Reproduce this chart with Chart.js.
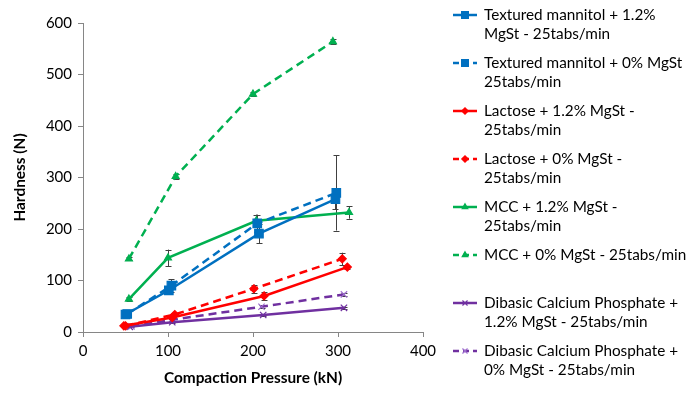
<!DOCTYPE html>
<html>
<head>
<meta charset="utf-8">
<script src="https://cdn.jsdelivr.net/npm/chart.js@4.4.0/dist/chart.umd.min.js"></script>
<style>
    html, body { margin: 0; padding: 0; background: #ffffff; }
    #wrap { width: 700px; height: 396px; position: relative; }
</style>
</head>
<body>
<div id="wrap"><canvas id="hardnessChart"></canvas></div>
<script>
// 数据 - 压片压力 (kN) / 硬度 (N) / 误差
const mannitol12X = [50, 101, 207, 297];
const mannitol12Y = [34, 81, 191, 258];
const mannitol12Err = [2, 6, 19, 20];

const mannitol0X = [52, 104, 205, 298];
const mannitol0Y = [35, 90, 211, 270];
const mannitol0Err = [2, 12, 17, 73];

const lactose12X = [48, 105, 213, 311];
const lactose12Y = [12, 28, 70, 126];
const lactose12Err = [1, 3, 8, 3];

const lactose0X = [50, 108, 201, 305];
const lactose0Y = [12, 34, 84, 142];
const lactose0Err = [1, 3, 8, 12];

const mcc12X = [54, 100, 204, 313];
const mcc12Y = [64, 144, 216, 232];
const mcc12Err = [3, 16, 12, 12];

const mcc0X = [54, 109, 200, 294];
const mcc0Y = [142, 302, 462, 564];
const mcc0Err = [3, 4, 4, 4];

const dcp12X = [55, 105, 212, 307];
const dcp12Y = [10, 19, 33, 47];
const dcp12Err = [1, 2, 2, 2];

const dcp0X = [57, 106, 210, 307];
const dcp0Y = [11, 24, 49, 73];
const dcp0Err = [1, 2, 3, 3];

// 图例文字 (按原图换行)
const legendLines = [
    ['Textured mannitol + 1.2%', 'MgSt - 25tabs/min'],
    ['Textured mannitol + 0% MgSt', '25tabs/min'],
    ['Lactose + 1.2% MgSt -', '25tabs/min'],
    ['Lactose + 0% MgSt -', '25tabs/min'],
    ['MCC + 1.2% MgSt -', '25tabs/min'],
    ['MCC + 0% MgSt - 25tabs/min'],
    ['Dibasic Calcium Phosphate +', '1.2% MgSt - 25tabs/min'],
    ['Dibasic Calcium Phosphate +', '0% MgSt - 25tabs/min']
];

const xTicks = [0, 100, 200, 300, 400];
const yTicks = [0, 100, 200, 300, 400, 500, 600];

const BLUE = '#0070C0';
const RED = '#FF0000';
const GREEN = '#00B050';
const PURPLE = '#7030A0';
const DASH = [8, 5];

function toPoints(xs, ys) {
    return xs.map((x, i) => ({ x: x, y: ys[i] }));
}

function makeSeries(idx, xs, ys, errs, color, dashed, style, radius, pointColor) {
    return {
        label: legendLines[idx].join(' '),
        data: toPoints(xs, ys),
        errors: errs,
        showLine: true,
        borderColor: color,
        backgroundColor: pointColor || color,
        pointBorderColor: pointColor || color,
        pointBackgroundColor: pointColor || color,
        borderWidth: 2.5,
        borderDash: dashed ? DASH : [],
        pointStyle: style,
        pointRadius: radius,
        pointBorderWidth: 1.2,
        tension: 0
    };
}

// 误差线插件
const errorBarPlugin = {
    id: 'errorBars',
    beforeDatasetsDraw(chart) {
        const ctx = chart.ctx;
        const yScale = chart.scales.y;
        ctx.save();
        ctx.strokeStyle = '#404040';
        ctx.lineWidth = 1;
        chart.data.datasets.forEach((ds, i) => {
            const meta = chart.getDatasetMeta(i);
            if (!ds.errors) return;
            meta.data.forEach((pt, j) => {
                const e = ds.errors[j];
                if (!e) return;
                const v = ds.data[j].y;
                const top = yScale.getPixelForValue(v + e);
                const bot = yScale.getPixelForValue(v - e);
                const x = Math.round(pt.x) + 0.5;
                ctx.beginPath();
                ctx.moveTo(x, top);
                ctx.lineTo(x, bot);
                ctx.moveTo(x - 3, Math.round(top) + 0.5);
                ctx.lineTo(x + 3, Math.round(top) + 0.5);
                ctx.moveTo(x - 3, Math.round(bot) + 0.5);
                ctx.lineTo(x + 3, Math.round(bot) + 0.5);
                ctx.stroke();
            });
        });
        ctx.restore();
    }
};

// 右侧图例插件
const sideLegendPlugin = {
    id: 'sideLegend',
    afterDraw(chart) {
        const ctx = chart.ctx;
        ctx.save();
        chart.data.datasets.forEach((ds, i) => {
            const y = 15 + 48 * i;
            ctx.strokeStyle = ds.borderColor;
            ctx.lineWidth = 2.5;
            ctx.setLineDash(ds.borderDash.length ? [6, 4] : []);
            ctx.beginPath();
            ctx.moveTo(453, y);
            ctx.lineTo(477, y);
            ctx.stroke();
            ctx.setLineDash([]);
            ctx.fillStyle = ds.pointBackgroundColor;
            ctx.strokeStyle = ds.pointBorderColor;
            ctx.lineWidth = 1.2;
            Chart.helpers.drawPoint(ctx, {
                pointStyle: ds.pointStyle,
                radius: ds.pointRadius * 0.8,
                borderWidth: 1.2
            }, 465, y);

            ctx.fillStyle = '#000000';
            ctx.font = '15.3px Lato';
            ctx.textBaseline = 'middle';
            ctx.textAlign = 'left';
            legendLines[i].forEach((line, k) => {
                ctx.fillText(line, 484, y + 19 * k);
            });
        });
        ctx.restore();
    }
};

const datasets = [
    makeSeries(0, mannitol12X, mannitol12Y, mannitol12Err, BLUE, false, 'rect', 6),
    makeSeries(1, mannitol0X, mannitol0Y, mannitol0Err, BLUE, true, 'rect', 6),
    makeSeries(2, lactose12X, lactose12Y, lactose12Err, RED, false, 'rectRot', 4),
    makeSeries(3, lactose0X, lactose0Y, lactose0Err, RED, true, 'rectRot', 4),
    makeSeries(4, mcc12X, mcc12Y, mcc12Err, GREEN, false, 'triangle', 4),
    makeSeries(5, mcc0X, mcc0Y, mcc0Err, GREEN, true, 'triangle', 4),
    makeSeries(6, dcp12X, dcp12Y, dcp12Err, PURPLE, false, 'crossRot', 4.5),
    makeSeries(7, dcp0X, dcp0Y, dcp0Err, PURPLE, true, 'crossRot', 4.5, '#9F6FCF')
];

const axisColor = '#868686';
const tickFont = { family: 'Lato', size: 15 };
const titleFont = { family: 'Lato', size: 15.4, weight: 'bold' };

new Chart(document.getElementById('hardnessChart'), {
    type: 'scatter',
    data: { datasets: datasets },
    plugins: [errorBarPlugin, sideLegendPlugin],
    options: {
        responsive: true,
        maintainAspectRatio: false,
        animation: false,
        devicePixelRatio: 1,
        layout: { padding: { top: 23, right: 277, bottom: 0, left: 0 } },
        plugins: {
            legend: { display: false },
            tooltip: { enabled: false }
        },
        scales: {
            x: {
                type: 'linear',
                min: 0,
                max: 400,
                afterFit(scale) { scale.height = 64; },
                afterBuildTicks(scale) { scale.ticks = xTicks.map(v => ({ value: v })); },
                border: { color: axisColor, width: 1 },
                grid: { display: true, drawOnChartArea: false, drawTicks: true, tickLength: 5, color: axisColor },
                ticks: { color: '#000000', font: tickFont, padding: 5 },
                title: { display: true, text: 'Compaction Pressure (kN)', color: '#000000', font: titleFont, padding: { top: 0, bottom: 9 } }
            },
            y: {
                type: 'linear',
                min: 0,
                max: 600,
                afterFit(scale) { scale.width = 83; },
                afterBuildTicks(scale) { scale.ticks = yTicks.map(v => ({ value: v })); },
                border: { color: axisColor, width: 1 },
                grid: { display: true, drawOnChartArea: false, drawTicks: true, tickLength: 5, color: axisColor },
                ticks: { color: '#000000', font: tickFont, padding: 6 },
                title: { display: true, text: 'Hardness (N)', color: '#000000', font: titleFont, padding: { top: 11, bottom: 0 } }
            }
        }
    }
});
</script>
</body>
</html>
